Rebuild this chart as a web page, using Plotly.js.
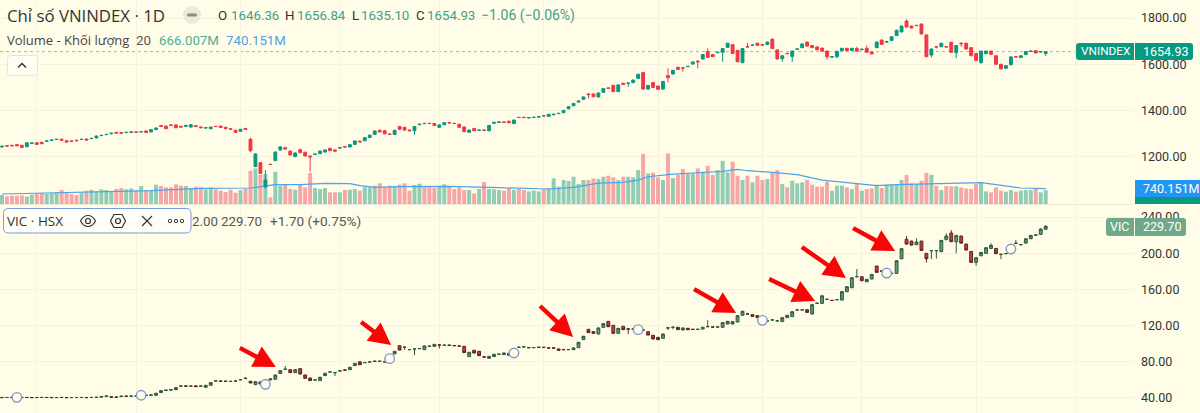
<!DOCTYPE html>
<html><head><meta charset="utf-8">
<script src="https://cdn.plot.ly/plotly-3.0.1.min.js"></script>
<style>html,body{margin:0;padding:0;background:#fffde8;overflow:hidden}#wrap{position:relative;width:1200px;height:413px}#chart{position:absolute;left:0;top:0;width:1200px;height:413px}#icons{position:absolute;left:0;top:0;pointer-events:none}</style>
</head><body>
<div id="wrap"><div id="chart"></div>
<svg id="icons" width="1200" height="413" fill="none">
<circle cx="192" cy="15" r="9" fill="#ebe9d8"/><rect x="187" y="13.5" width="10" height="3" rx="1.5" fill="#8a8a84"/>
<rect x="7.5" y="55.5" width="30" height="20" rx="3" fill="#fffef4" stroke="#e6e4d2"/><path d="M18 67.5l4-4 4 4" stroke="#333" stroke-width="1.5"/>
<path d="M80.5 221c2-3.8 4.700-5.500 7.500-5.500s5.500 1.700 7.500 5.500c-2 3.800-4.700 5.500-7.500 5.500s-5.500-1.700-7.500-5.500z" stroke="#333" stroke-width="1.200"/><circle cx="88" cy="221" r="2.500" stroke="#333" stroke-width="1.200"/>
<path d="M114 214.500h8l3.500 6.500-3.500 6.500h-8l-3.500-6.500z" stroke="#333" stroke-width="1.200" stroke-linejoin="round"/><circle cx="118" cy="221" r="2.500" stroke="#333" stroke-width="1.200"/>
<path d="M142 216l10 10M152 216l-10 10" stroke="#333" stroke-width="1.200"/>
<circle cx="170" cy="221" r="1.700" stroke="#333"/><circle cx="176" cy="221" r="1.700" stroke="#333"/><circle cx="182" cy="221" r="1.700" stroke="#333"/>
</svg></div>
<script>
const vnOpen=[1243,1248,1250,1253,1250,1244,1258,1261,1263,1267,1272,1275,1276,1270,1269,1272,1275,1277,1279,1282,1292,1296,1300,1306,1305,1305,1306,1308,1308,1312,1308,1318,1335,1333,1338,1338,1332,1332,1329,1335,1329,1325,1322,1332,1333,1328,1322,1315,1311,1323,1276,1158,1175,1071,1168,1184,1230,1240,1225,1201,1231,1220,1204,1210,1214,1221,1237,1230,1238,1244,1243,1254,1268,1270,1284,1297,1315,1313,1299,1297,1331,1328,1316,1313,1339,1345,1345,1344,1328,1339,1348,1345,1341,1329,1306,1323,1315,1316,1313,1345,1349,1351,1354,1344,1371,1371,1368,1370,1372,1378,1375,1382,1387,1391,1408,1421,1437,1449,1472,1472,1459,1479,1498,1509,1482,1518,1518,1521,1539,1564,1493,1521,1506,1493,1551,1558,1587,1585,1590,1601,1614,1623,1655,1642,1650,1652,1673,1685,1660,1607,1676,1682,1691,1685,1686,1709,1662,1624,1647,1634,1665,1672,1696,1681,1675,1670,1657,1631,1633,1659,1669,1660,1668,1663,1669,1653,1672,1705,1696,1703,1724,1740,1787,1765,1767,1774,1727,1640,1676,1676,1676,1695,1650,1691,1691,1672,1647,1608,1646,1657,1637,1600,1583,1598,1633,1629,1642,1656,1659,1653,1646.36];
const vnClose=[1246,1247,1248,1248,1241,1261,1260,1254,1257,1269,1273,1276,1272,1264,1267,1270,1276,1273,1280,1290,1293,1297,1302,1303,1303,1306,1308,1306,1309,1306,1318,1325,1332,1322,1336,1326,1329,1336,1339,1331,1326,1326,1329,1331,1327,1322,1320,1306,1319,1319,1227,1213,1129,1100,1167,1221,1243,1234,1208,1217,1218,1204,1200,1212,1225,1230,1227,1225,1240,1243,1253,1269,1265,1283,1294,1312,1308,1300,1297,1315,1319,1316,1313,1331,1341,1344,1344,1336,1338,1348,1347,1344,1328,1309,1316,1313,1316,1315,1336,1349,1351,1349,1348,1359,1370,1370,1370,1371,1374,1377,1384,1384,1388,1401,1417,1431,1441,1459,1469,1460,1476,1495,1496,1482,1511,1513,1519,1532,1557,1493,1509,1500,1492,1526,1542,1574,1578,1584,1591,1610,1611,1642,1630,1633,1652,1668,1691,1647,1611,1668,1675,1683,1682,1683,1696,1668,1623,1637,1646,1657,1666,1688,1679,1672,1663,1657,1633,1633,1656,1669,1659,1669,1657,1665,1652,1645,1696,1686,1698,1719,1747,1765,1761,1757,1768,1731,1633,1666,1675,1691,1675,1652,1681,1689,1666,1637,1616,1657,1657,1643,1600,1580,1594,1632,1632,1637,1655,1657,1649,1655,1654.93];
const vnHigh=[1248,1250,1252,1255,1252,1263,1262,1263,1265,1271,1275,1278,1279,1272,1271,1274,1278,1279,1282,1292,1295,1299,1304,1308,1307,1308,1310,1310,1311,1314,1320,1327,1337,1335,1340,1340,1334,1338,1341,1337,1331,1328,1331,1334,1335,1330,1324,1317,1321,1325,1283,1215,1177,1143,1170,1223,1247,1242,1227,1219,1236,1222,1206,1214,1227,1232,1239,1232,1242,1246,1255,1271,1270,1285,1296,1314,1317,1315,1301,1317,1333,1330,1318,1333,1343,1347,1347,1346,1340,1350,1350,1347,1343,1331,1318,1325,1318,1318,1338,1351,1353,1353,1356,1361,1373,1373,1372,1373,1376,1380,1386,1386,1390,1403,1419,1433,1443,1461,1474,1474,1478,1497,1500,1511,1513,1520,1521,1534,1559,1566,1511,1523,1508,1528,1583,1576,1589,1587,1593,1612,1616,1644,1669,1644,1654,1670,1693,1687,1662,1670,1693,1685,1693,1687,1698,1711,1664,1639,1649,1659,1668,1690,1698,1683,1677,1672,1659,1635,1658,1671,1671,1671,1676,1667,1681,1655,1698,1707,1700,1721,1749,1767,1794,1767,1770,1776,1729,1668,1678,1693,1678,1697,1683,1695,1693,1674,1649,1659,1659,1659,1639,1602,1596,1634,1635,1639,1657,1659,1661,1657,1656.84];
const vnLow=[1241,1245,1246,1246,1239,1242,1256,1252,1255,1265,1270,1273,1270,1262,1265,1268,1273,1271,1277,1280,1290,1294,1298,1301,1301,1303,1304,1304,1306,1304,1306,1316,1330,1320,1334,1324,1327,1330,1327,1329,1324,1323,1320,1329,1325,1320,1318,1304,1309,1317,1220,1156,1127,1064,1165,1182,1228,1232,1206,1199,1216,1202,1136,1208,1212,1219,1225,1223,1236,1241,1241,1252,1263,1268,1282,1295,1306,1298,1295,1295,1317,1314,1311,1295,1337,1342,1342,1334,1326,1337,1345,1342,1326,1307,1304,1311,1313,1313,1311,1343,1347,1347,1346,1342,1368,1368,1366,1368,1370,1375,1373,1380,1385,1389,1406,1419,1435,1447,1452,1458,1457,1477,1494,1480,1480,1511,1503,1519,1537,1491,1491,1498,1490,1491,1521,1556,1576,1568,1588,1599,1583,1621,1628,1631,1648,1611,1671,1645,1609,1605,1673,1680,1680,1681,1684,1666,1621,1610,1644,1610,1663,1670,1677,1670,1661,1655,1621,1629,1626,1657,1657,1658,1655,1661,1650,1643,1670,1684,1694,1701,1722,1738,1759,1755,1765,1729,1631,1630,1669,1674,1673,1650,1626,1676,1664,1635,1614,1601,1644,1641,1598,1578,1581,1596,1630,1627,1640,1654,1647,1651,1635.10];
const volumeM=[435,370,400,400,420,355,450,515,515,485,515,565,675,530,485,435,545,645,690,610,710,675,610,725,775,710,755,645,870,675,645,935,870,805,805,950,885,870,775,835,805,710,805,710,645,580,690,545,675,740,1610,1720,1415,1450,320,1560,885,965,725,690,935,805,1495,775,725,775,565,565,565,675,690,725,645,805,805,885,1000,805,885,835,935,1000,645,920,980,805,805,775,855,950,870,725,805,675,675,515,725,1065,725,710,675,645,775,675,725,675,610,645,610,725,775,1240,835,1160,1110,1320,965,1160,1160,1240,1210,1320,1370,1290,1160,1320,1320,1290,1640,2415,1480,1515,1290,1160,2445,1255,1415,1690,1480,1480,1720,1560,1850,1415,1640,2090,1530,2045,1370,1160,1370,1045,1370,1160,1210,1530,1640,965,805,1125,1000,1045,1175,935,835,835,1080,645,885,885,805,725,1000,645,725,755,935,775,935,935,935,1160,1400,1000,965,1125,1515,1415,870,675,870,855,855,805,755,725,965,1045,610,565,805,645,595,675,595,645,675,675,725,565,666];
const smaDays=[0,20,30,40,50,55,60,65,70,72,75,80,90,100,110,115,120,125,128,130,135,140,145,148,150,155,160,165,172,176,180,185,197,200,205,210];
const smaVolumeM=[483,580,644,757,773,934,934,998,982,886,805,837,853,789,725,805,1014,1047,1159,1320,1449,1513,1578,1674,1610,1530,1417,1159,998,886,934,966,1030,934,773,740.151];
const vicOpen=[40.6,40.5,40.6,40.5,40.4,40.6,40.5,40.4,40.5,40.6,40.6,40.4,40.7,40.5,40.4,40.5,40.5,40.6,40.5,40.6,40.9,41.6,41.4,41,41.5,42,41.9,42.1,42.4,43,43,43,46,48.2,48.7,49.2,53,53.3,53.1,53.4,53,51.8,54,58.7,58.7,58.5,58.2,58.5,60,61.4,58.5,54.7,57.7,55,60,60.7,67,71.5,71.3,68,72.4,65.4,62.1,59.8,59.2,64.7,68.6,67.9,69.8,71,71.3,75.8,80,79,79.7,80.6,80.5,79.8,83.5,88.7,97.8,96,93.4,94.1,94.5,93.4,97.1,97.1,98.6,98.2,98.4,97.9,97.5,97.1,85.7,92.7,91.6,85.4,83.9,85.8,88.3,87.9,87.2,89.8,96,96.4,95.7,95.6,96.1,96,95.3,95.3,94.2,93.5,93.4,93.4,95.6,104.5,115.9,113.3,110.7,118.1,124.7,120.3,111.5,119.2,116.3,116.2,115.4,115.2,113.3,109.3,107,106,117.4,118.1,118.1,115.2,117,115.9,115.8,116.3,118.8,118.5,118.4,118.1,121.8,121.8,124,131.4,132.9,132.1,131,125.8,125.1,126.2,125.2,124.4,128.8,129.9,137.2,137.2,137.6,132.8,144.6,144.6,149,147.9,148.6,148.2,157.5,161.9,174,174,168.5,171.5,185.8,180.3,178,177.7,177.7,193.9,215.3,213.4,209.4,213.4,199.8,202.8,202.8,201.7,214.9,222.3,212.7,219,210.1,202,189.9,197.2,199.8,205.3,205.3,198.7,199.5,204.6,210.9,209.4,211.2,216,220,220.8,226.5];
const vicClose=[40.4,40.6,40.5,40.5,40.6,40.5,40.4,40.5,40.6,40.5,40.4,40.5,40.5,40.3,40.5,40.5,40.6,40.4,40.6,40.8,41.6,42.2,40.9,40.8,42,41.9,42.1,42.3,42.8,42.8,43.4,45.2,48.1,48.7,49.2,51.4,53.3,53.1,53.2,52.6,53.2,54,57,58.9,58.5,58.4,58.4,58.9,60.3,61.8,56.6,58,55.5,55.5,61,65.4,70.2,71.8,68,71.3,66.5,61.8,59.2,60,62.9,67.3,68.8,68.1,70,70.8,73.9,78.3,76.8,79.2,79.8,80.5,80.6,79.9,83.8,91.6,93,96.2,93.5,94.2,94.6,97.5,97.3,99.3,98.6,98.4,98.2,97.8,97.4,90.1,90.5,89.7,86.8,85.3,86,88.3,88.4,89.7,89.4,89.6,96.1,96.5,95.6,95.7,96,95.9,95.2,95.2,92.7,93.4,93.5,95.3,101.5,108.2,112.2,111.5,117.4,122.2,118.8,111.5,117,115.5,116.2,116.3,115.6,115.1,109.6,105.2,104.5,110.7,117.5,118.2,115.5,117.4,115.5,115.8,115.9,118.1,118.9,118.4,118.5,123.3,124.7,124.4,131,135.8,132.8,130.2,128.8,125.9,125.2,126.3,125.3,128.8,131.4,135.4,137.3,137.3,134.6,143.1,144.7,153,149.1,147.8,148.7,157.5,163,172.9,174.1,169.6,171.1,176.6,178.8,180.2,178.1,177.8,191.7,205,210.1,209,212.3,203.1,193.9,202.9,202.9,214.2,219,212.7,219.7,211.2,203.5,189.9,195,200.9,206.1,208.7,199.5,198.8,199.6,204.7,211,209.5,216,219.7,220.1,226.7,229.7];
const vicHigh=[41,41,41,41,41,41,41,41,41,41,41,41,41,41,41,41,41,41,41,41.2,42,42.6,41.8,41.4,42.4,42.4,42.4,42.7,43.2,43.4,43.8,45.6,48.5,49,49.6,51.8,53.7,53.7,53.6,53.8,53.6,54.4,57.4,59.3,59.1,58.9,58.8,59.3,60.7,63,59,58.4,58.1,55.9,61.4,65.8,70.6,75.4,71.7,71.7,72.8,65.8,62.5,60.4,63.3,67.7,69.2,68.5,70.4,71.4,74.3,78.7,80.4,79.6,80.2,81,81,80.3,83.9,92,98.2,96.6,93.9,94.6,95,97.9,97.7,99.7,99,98.8,98.8,98.3,97.9,97.5,90.9,93.1,92,85.8,86.4,88.7,88.8,90.1,89.8,90,96.5,96.9,96.1,96.1,96.4,96.4,95.7,95.7,94.6,93.9,93.9,95.7,101.9,108.6,116.3,113.7,117.8,122.6,125.1,120.7,117.4,119.6,116.7,116.7,116,115.6,113.7,109.7,107.4,111.1,117.9,118.6,118.5,117.8,117.4,116.3,116.3,118.5,126,118.9,118.9,123.7,125.1,124.8,131.4,136.5,133.3,132.5,131.4,126.3,125.6,126.7,125.7,129.2,131.8,135.8,137.7,137.7,138,143.5,145.5,153.4,149.5,148.3,149.1,157.9,163.4,173.3,182.5,174.4,171.5,177,186.2,180.7,178.5,178.2,192.1,205.4,219,213.8,216.4,213.8,200.2,203.3,203.3,214.6,221.9,225.6,220.1,219.4,210.5,202.4,195.4,201.3,206.5,210.9,205.7,199.2,200,205.1,214.6,210,216.4,220.1,220.5,227.5,231];
const vicLow=[40,40,40,40,40,40,40,40,40,40,40,40,40,40,40,40,40,40,40,40.2,40.5,41.2,40.5,40.4,41.1,41.5,41.5,41.7,42,42.4,42.6,42.6,45.6,47.8,48.3,48.8,52.6,52.7,52.7,52.2,52.6,51.4,53.6,58.3,58.1,58,57.8,58.1,59.6,61,56.2,54.3,55.1,53.6,59.6,60.3,66.5,71.1,67.6,67.6,66.1,61.4,58.8,59.4,58.8,64.3,68.2,64.3,69.4,70.4,70.9,75.4,76.4,78.6,79.3,80.1,80.1,79.4,83.1,88.3,92.6,93,93,87.5,94.1,93,96.7,96.7,94.8,97.8,97.8,97.4,97,89.7,85.3,89.3,86.4,84.9,83.5,85.4,87.9,87.5,86.8,89.2,95.6,96,95.2,95.2,95.6,95.5,94.8,94.8,92.3,93,93,93,95.2,104.1,111.8,111.1,110.3,117.7,118.4,111.1,111.1,115.1,110.7,115.8,115,114.7,109.2,104.8,104.1,105.6,115.2,116,115.1,114.8,115.1,115.4,115.4,115.9,118.4,118,118,117.7,121.4,121.4,123.6,131,132.4,129.8,128.4,125.4,124.7,125.8,124.8,124,128.4,129.5,136.8,136.8,134.2,132.4,144.2,144.2,148.6,147.4,148.2,147.8,157.1,161.5,173.6,169.2,168.1,171.1,178.4,179.8,177.6,177.3,177.3,193.5,209.7,208.6,209,202.7,189.6,193.5,194,201.3,214.5,212.3,199.8,210.8,203.1,189.5,186.2,196.8,199.4,204.9,199.1,193.5,199.1,204.2,210.5,209,210.8,215.6,219.6,220.4,226];
const circleDays=[3,28,53,78,103,128,153,178,203];
const circleVic=[40.7,43,55.1,83.5,89.7,115.5,125.8,178.1,204.6];
const arrowDays=[55.1,78.3,114.9,147.7,163.6,169.8,179.7];
const arrowVic=[74.3,98.6,107.4,133.9,147.2,172.6,202.4];
const arrowDx=[-36,-30,-33,-42,-46,-44,-42];
const arrowDy=[-19,-23,-31,-24,-22,-31,-23];
const gridDays=[7,27,48,68,88,109,132,153,173,196,216];
const priceTicks=[1200,1400,1600,1800];
const vicTicks=[40,80,120,160,200,240];

const days=vnOpen.map((_,i)=>i);
const BG='#fffde8',GRID='#f4f2dc',FONT='Roboto, sans-serif',WIDE='"Open Sans", sans-serif';
const px=x=>x/1135, py=y=>1-y/413;
const UP='#089981',DN='#f23645';
const volColors=vnClose.map((c,i)=>c>=vnOpen[i]?'#92ccb5':'#f7a6a6');

const traces=[
 {type:'bar',x:days,y:volumeM,yaxis:'y',xaxis:'x',marker:{color:volColors,line:{width:0}},width:0.8,hoverinfo:'skip'},
 {type:'scatter',mode:'lines',x:smaDays,y:smaVolumeM,yaxis:'y',xaxis:'x',line:{color:'#4ea3ea',width:1.2},hoverinfo:'skip'},
 {type:'candlestick',x:days,open:vnOpen,high:vnHigh,low:vnLow,close:vnClose,yaxis:'y2',xaxis:'x',whiskerwidth:0,
  increasing:{line:{color:UP,width:1},fillcolor:UP},decreasing:{line:{color:DN,width:1},fillcolor:DN},hoverinfo:'skip'},
 {type:'candlestick',x:days,open:vicOpen,high:vicHigh,low:vicLow,close:vicClose,yaxis:'y3',xaxis:'x',whiskerwidth:0,
  increasing:{line:{color:'#2d5a3c',width:1},fillcolor:'#5c9a72'},decreasing:{line:{color:'#5a2424',width:1},fillcolor:'#c23f3f'},hoverinfo:'skip'},
 {type:'scatter',mode:'markers',x:circleDays,y:circleVic,yaxis:'y3',xaxis:'x',marker:{size:9.5,color:BG,line:{color:'#8297d0',width:1.4}},hoverinfo:'skip'}
];

function rr(x0,y0,x1,y1,r,l=true,rt=true){
 const X=px,Y=py,rl=l?r:0,rr_=rt?r:0;
 return `M${X(x0+rl)},${Y(y0)} L${X(x1-rr_)},${Y(y0)} Q${X(x1)},${Y(y0)} ${X(x1)},${Y(y0+rr_)} L${X(x1)},${Y(y1-rr_)} Q${X(x1)},${Y(y1)} ${X(x1-rr_)},${Y(y1)} L${X(x0+rl)},${Y(y1)} Q${X(x0)},${Y(y1)} ${X(x0)},${Y(y1-rl)} L${X(x0)},${Y(y0+rl)} Q${X(x0)},${Y(y0)} ${X(x0+rl)},${Y(y0)} Z`;
}
const box=(x0,y0,x1,y1,fill,r=3,l=true,rt=true,line)=>({type:'path',xref:'paper',yref:'paper',path:rr(x0,y0,x1,y1,r,l,rt),fillcolor:fill,line:line||{width:0},layer:'above'});

function arrowPath(dx,dy){
 const len=Math.hypot(dx,dy),ux=dx/len,uy=dy/len,nx=-uy,ny=ux;
 const head=22,hw=11.5,sw=2.2;
 const p=(a,b)=>`${(a*ux+b*nx).toFixed(1)} ${(-(a*uy+b*ny)).toFixed(1)}`;
 return `M0 0 L${p(head,hw)} L${p(head,sw)} L${p(len,sw)} L${p(len,-sw)} L${p(head,-sw)} L${p(head,-hw)} Z`;
}
const arrows=arrowDays.map((d,i)=>({type:'path',xref:'x',yref:'y3',xsizemode:'pixel',ysizemode:'pixel',xanchor:d,yanchor:arrowVic[i],
 path:arrowPath(arrowDx[i],arrowDy[i]),fillcolor:'#f80606',line:{width:0},layer:'above'}));

const shapes=[
 {type:'line',xref:'paper',yref:'y2',x0:0,x1:px(1076),y0:1654.93,y1:1654.93,line:{color:'#b4b4a8',width:1,dash:'dot'},layer:'below'},
 {type:'line',xref:'paper',yref:'paper',x0:0,x1:1,y0:py(204.5),y1:py(204.5),line:{color:'#ecead4',width:1},layer:'below'},
 box(1076,43,1134,60,UP,3,true,false),
 box(1135,43,1193,60,UP,3,false,true),
 box(1135,197,1200,204,'#089981',0),
 box(1135,180,1200,197,'#2196f3',0),
 box(1106,218,1134,236,'#6fa98a',3,true,false),
 box(1135,218,1186,236,'#6fa98a',3,false,true),
 box(3.5,208.5,191,233,'#fffef6',5,true,true,{color:'#7a9cdc',width:1}),
 ...arrows
];

const txt=(text,x,y,size,color,extra)=>Object.assign({xref:'paper',yref:'paper',x:px(x),y:py(y),xanchor:'left',yanchor:'middle',text,showarrow:false,
 font:{family:FONT,size,color},borderpad:0,borderwidth:0},extra||{});
const wide=(text,x,y,size,color)=>{const a=txt(text,x,y,size,color);a.font.family=WIDE;return a;};
const GV='#3f9f8c',DK='#333333';
const annotations=[
 wide('Chỉ số VNINDEX · 1D',6.5,15,16.8,DK),
 txt('O',218,15,13.3,DK),txt('1646.36',231,15,13.3,GV),
 txt('H',285,15,13.3,DK),txt('1656.84',297,15,13.3,GV),
 txt('L',352,15,13.3,DK),txt('1635.10',361,15,13.3,GV),
 txt('C',416,15,13.3,DK),txt('1654.93',427,15,13.3,GV),
 txt('−1.06 (−0.06%)',481,15,14,GV),
 wide('Volume - Khối lượng',7,40,13,'#444444'),txt('20',136,40,13.3,'#555555'),
 txt('666.007M',159,40,13.3,'#4aaf97'),txt('740.151M',226,40,13.3,'#4f9fe6'),
 txt('2.00',192,221,13.3,'#555555'),txt('229.70',221,221,13.3,'#555555'),txt('+1.70 (+0.75%)',270,221,13.6,'#555555'),
 wide('VIC · HSX',7,221,13.5,DK),
 txt('VNINDEX',1081,51.5,11.8,'#ffffff'),txt('1654.93',1143,51.5,12.5,'#ffffff'),
 txt('740.151M',1143,188.5,12.5,'#ffffff'),
 txt('VIC',1110,227,12.5,'#ffffff'),txt('229.70',1143,227,12.5,'#ffffff')
];

const layout={
 width:1200,height:413,margin:{l:0,r:65,t:0,b:0,pad:0},paper_bgcolor:BG,plot_bgcolor:BG,showlegend:false,hovermode:false,dragmode:false,boxgap:0.18,
 font:{family:FONT,color:DK},
 xaxis:{range:[-0.4,227.97],anchor:'y3',tickmode:'array',tickvals:gridDays,showticklabels:false,ticks:'',showgrid:true,gridcolor:GRID,gridwidth:1,zeroline:false,showline:false,rangeslider:{visible:false},fixedrange:true},
 yaxis:{domain:[1-204/413,1],range:[0,9870],showticklabels:false,ticks:'',showgrid:false,zeroline:false,showline:false,fixedrange:true},
 yaxis2:{overlaying:'y',anchor:'x',side:'right',range:[996.5,1877.8],tickmode:'array',tickvals:priceTicks,tickformat:'.2f',showgrid:true,gridcolor:GRID,zeroline:false,showline:false,ticks:'',ticklabelstandoff:5,tickfont:{family:FONT,size:12.5,color:DK},fixedrange:true},
 yaxis3:{domain:[0,1-205/413],anchor:'x',side:'right',range:[23.4,253.3],tickmode:'array',tickvals:vicTicks,tickformat:'.2f',showgrid:true,gridcolor:GRID,zeroline:false,showline:false,ticks:'',ticklabelstandoff:5,tickfont:{family:FONT,size:12.5,color:DK},fixedrange:true},
 shapes,annotations
};
Plotly.newPlot('chart',traces,layout,{displayModeBar:false,staticPlot:true});
</script>
</body></html>
